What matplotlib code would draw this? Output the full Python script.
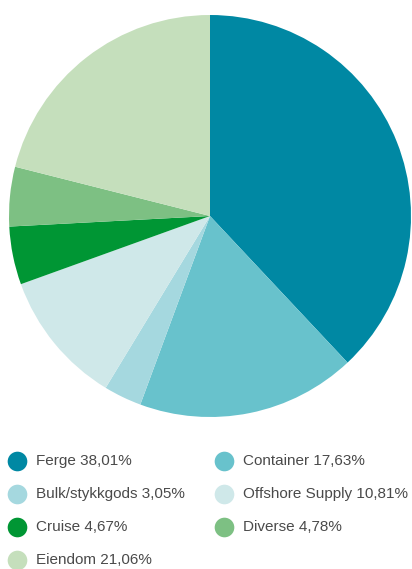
import matplotlib.pyplot as plt

labels = ['Ferge', 'Container', 'Bulk/stykkgods', 'Offshore Supply', 'Cruise', 'Diverse', 'Eiendom']
shares = [38.01, 17.63, 3.05, 10.81, 4.67, 4.78, 21.06]
colors = ['#0088a3', '#68c2cc', '#a5d8df', '#cfe8e9', '#009634', '#7dc083', '#c5dfbc']

W, H = 412, 569
fig = plt.figure(figsize=(W / 100, H / 100), dpi=100)

# pie area in pixels: x 9..411, y 15..417
ax = fig.add_axes([9 / W, 1 - 417 / H, 402 / W, 402 / H])
ax.pie(shares, colors=colors, startangle=90, counterclock=False,
       wedgeprops=dict(linewidth=0))
ax.set_xlim(-1, 1)
ax.set_ylim(-1, 1)
ax.set_aspect('equal')
ax.axis('off')

# legend, two columns
lax = fig.add_axes([0, 0, 1, 1])
lax.set_xlim(0, W)
lax.set_ylim(H, 0)
lax.axis('off')
col_x = [17, 224]
row_y = [461, 494, 527, 560]
for i, (lab, val, c) in enumerate(zip(labels, shares, colors)):
    x = col_x[i % 2]
    y = row_y[i // 2]
    lax.scatter([x], [y], s=200, color=c, linewidths=0)
    txt = f'{lab} {val:.2f}%'.replace('.', ',')
    lax.text(x + 19, y, txt, fontsize=11, color='#4a4a4a',
             va='center', ha='left', family='Liberation Sans')

fig.savefig('out.png', dpi=100)
